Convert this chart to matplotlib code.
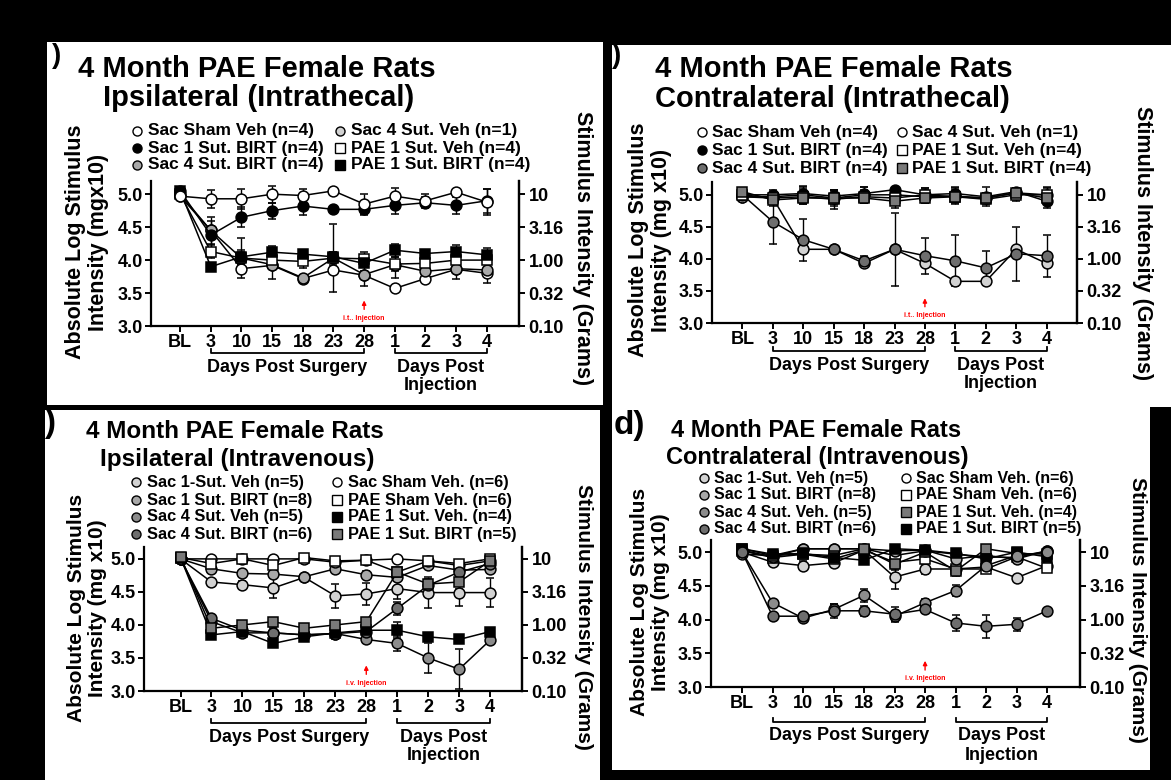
import matplotlib
matplotlib.use('Agg')
import matplotlib.pyplot as plt
import matplotlib.transforms as mtransforms
from matplotlib.patches import Rectangle
from matplotlib.lines import Line2D

plt.rcParams['font.family'] = ['Liberation Sans', 'DejaVu Sans']
plt.rcParams['font.weight'] = 'bold'

# ======================
# Data
# ======================
x_labels = ['BL', '3', '10', '15', '18', '23', '28', '1', '2', '3', '4']
left_ticks = [3.0, 3.5, 4.0, 4.5, 5.0]
right_labels = ['0.10', '0.32', '1.00', '3.16', '10']

# a) ipsilateral, intrathecal
a_names = ['Sac Sham Veh (n=4)', 'Sac 1 Sut. BIRT (n=4)', 'Sac 4 Sut. BIRT (n=4)',
           'Sac 4 Sut. Veh (n=1)', 'PAE 1 Sut. Veh (n=4)', 'PAE 1 Sut. BIRT (n=4)']
a_sham_veh = [4.97, 4.93, 4.93, 5.00, 4.98, 5.05, 4.85, 4.97, 4.90, 5.03, 4.88]
a_sham_err = [0.03, 0.14, 0.15, 0.13, 0.10, 0.02, 0.15, 0.12, 0.10, 0.03, 0.20]
a_sac1_birt = [5.05, 4.38, 4.65, 4.75, 4.82, 4.77, 4.77, 4.83, 4.87, 4.83, 4.90]
a_sac1_birt_err = [0.03, 0.22, 0.15, 0.12, 0.14, 0.02, 0.08, 0.13, 0.08, 0.13, 0.18]
a_sac4_birt = [5.00, 4.45, 4.03, 3.93, 3.73, 4.03, 3.78, 3.93, 3.83, 3.87, 3.85]
a_sac4_birt_err = [0.03, 0.20, 0.30, 0.22, 0.05, 0.52, 0.18, 0.20, 0.12, 0.15, 0.20]
a_sac4_veh = [4.97, 4.45, 3.87, 3.92, 3.72, 3.85, 3.77, 3.57, 3.72, 3.86, 3.80]
a_sac4_veh_err = [0, 0, 0, 0, 0, 0, 0, 0, 0, 0, 0]
a_pae1_veh = [5.00, 4.13, 4.03, 4.00, 3.98, 4.03, 4.02, 3.94, 3.95, 4.00, 4.00]
a_pae1_veh_err = [0.03, 0.10, 0.10, 0.08, 0.10, 0.10, 0.10, 0.10, 0.05, 0.10, 0.10]
a_pae1_birt = [5.05, 3.90, 4.05, 4.12, 4.09, 4.05, 3.95, 4.15, 4.10, 4.13, 4.08]
a_pae1_birt_err = [0.02, 0.06, 0.10, 0.10, 0.06, 0.08, 0.12, 0.10, 0.06, 0.10, 0.10]

# b) contralateral, intrathecal
b_names = a_names
b_sham_veh = [4.97, 4.97, 5.00, 4.95, 5.00, 5.00, 4.97, 4.98, 4.95, 5.03, 5.00]
b_sham_err = [0.03, 0.08, 0.12, 0.12, 0.12, 0.08, 0.10, 0.12, 0.08, 0.08, 0.12]
b_sac1_birt = [5.00, 5.00, 5.02, 4.98, 5.02, 5.08, 5.00, 5.02, 4.97, 5.05, 4.90]
b_sac1_birt_err = [0.03, 0.08, 0.12, 0.10, 0.10, 0.02, 0.10, 0.10, 0.15, 0.05, 0.10]
b_sac4_birt = [5.00, 4.58, 4.30, 4.15, 3.97, 4.15, 4.05, 3.97, 3.86, 4.08, 4.05]
b_sac4_birt_err = [0.03, 0.35, 0.33, 0.03, 0.08, 0.57, 0.28, 0.40, 0.27, 0.42, 0.33]
b_sac4_veh = [4.97, 4.95, 4.15, 4.15, 3.93, 4.15, 3.93, 3.65, 3.65, 4.15, 3.93]
b_sac4_veh_err = [0, 0, 0, 0, 0, 0, 0, 0, 0, 0, 0]
b_pae1_veh = [5.00, 4.95, 4.97, 4.93, 4.97, 4.95, 5.00, 4.97, 4.93, 5.00, 5.00]
b_pae1_veh_err = [0.03, 0.10, 0.12, 0.15, 0.10, 0.10, 0.10, 0.10, 0.08, 0.10, 0.10]
b_pae1_birt = [5.05, 4.92, 4.95, 4.95, 4.95, 4.90, 4.95, 4.97, 4.95, 5.03, 4.95]
b_pae1_birt_err = [0.02, 0.10, 0.10, 0.10, 0.08, 0.10, 0.08, 0.08, 0.08, 0.05, 0.08]

# c) ipsilateral, intravenous
c_names = ['Sac 1-Sut. Veh (n=5)', 'Sac 1 Sut. BIRT (n=8)', 'Sac 4 Sut. Veh (n=5)',
           'Sac 4 Sut. BIRT (n=6)', 'Sac Sham Veh. (n=6)', 'PAE Sham Veh. (n=6)',
           'PAE 1 Sut. Veh. (n=4)', 'PAE 1 Sut. BIRT (n=5)']
c_sac1_veh = [5.00, 4.65, 4.61, 4.56, 4.72, 4.44, 4.47, 4.55, 4.49, 4.49, 4.49]
c_sac1_veh_err = [0.02, 0.05, 0.06, 0.15, 0.04, 0.18, 0.17, 0.15, 0.23, 0.20, 0.22]
c_sac1_birt = [5.00, 4.85, 4.78, 4.77, 4.73, 4.85, 4.76, 4.72, 4.90, 4.83, 4.84]
c_sac1_birt_err = [0.02, 0.04, 0.04, 0.05, 0.04, 0.04, 0.05, 0.05, 0.04, 0.05, 0.05]
c_sac4_veh = [5.00, 4.05, 3.88, 3.88, 3.85, 3.87, 3.78, 3.72, 3.50, 3.33, 3.77]
c_sac4_veh_err = [0.02, 0.05, 0.05, 0.08, 0.05, 0.08, 0.05, 0.12, 0.22, 0.30, 0.05]
c_sac4_birt = [5.00, 4.10, 3.92, 3.88, 3.85, 3.87, 3.90, 4.25, 4.60, 4.80, 4.93]
c_sac4_birt_err = [0.02, 0.05, 0.05, 0.05, 0.05, 0.05, 0.05, 0.10, 0.05, 0.05, 0.05]
c_sham_veh = [5.00, 5.00, 5.00, 5.00, 5.00, 4.95, 4.98, 5.00, 4.97, 4.90, 4.97]
c_sham_veh_err = [0.02, 0.03, 0.03, 0.03, 0.03, 0.04, 0.03, 0.03, 0.03, 0.04, 0.03]
c_pae_sham = [5.02, 4.93, 5.00, 4.90, 5.02, 4.97, 4.98, 4.80, 4.97, 4.93, 5.00]
c_pae_sham_err = [0.02, 0.04, 0.03, 0.05, 0.03, 0.04, 0.04, 0.05, 0.03, 0.04, 0.03]
c_pae1_veh = [5.02, 3.85, 3.90, 3.72, 3.82, 3.88, 3.92, 3.92, 3.82, 3.78, 3.90]
c_pae1_veh_err = [0.02, 0.05, 0.05, 0.05, 0.05, 0.05, 0.05, 0.12, 0.05, 0.03, 0.05]
c_pae1_birt = [5.03, 3.95, 4.00, 4.05, 3.95, 4.00, 4.05, 4.80, 4.62, 4.65, 4.97]
c_pae1_birt_err = [0.02, 0.05, 0.05, 0.05, 0.05, 0.05, 0.05, 0.05, 0.08, 0.10, 0.05]

# d) contralateral, intravenous
d_names = ['Sac 1-Sut. Veh (n=5)', 'Sac 1 Sut. BIRT (n=8)', 'Sac 4 Sut. Veh. (n=5)',
           'Sac 4 Sut. BIRT (n=6)', 'Sac Sham Veh. (n=6)', 'PAE Sham Veh. (n=6)',
           'PAE 1 Sut. Veh. (n=4)', 'PAE 1 Sut. BIRT (n=5)']
d_sac1_veh = [5.00, 4.85, 4.80, 4.84, 5.03, 4.63, 4.75, 4.75, 4.78, 4.62, 4.80]
d_sac1_veh_err = [0.02, 0.04, 0.07, 0.03, 0.03, 0.18, 0.08, 0.05, 0.07, 0.02, 0.03]
d_sac1_birt = [5.03, 4.93, 5.05, 5.05, 5.05, 5.02, 5.03, 4.90, 4.95, 4.90, 5.02]
d_sac1_birt_err = [0.02, 0.04, 0.03, 0.03, 0.04, 0.04, 0.03, 0.04, 0.04, 0.04, 0.03]
d_sac4_veh = [5.00, 4.05, 4.05, 4.13, 4.13, 4.08, 4.15, 3.95, 3.90, 3.93, 4.13]
d_sac4_veh_err = [0.02, 0.05, 0.05, 0.10, 0.07, 0.10, 0.05, 0.12, 0.17, 0.10, 0.02]
d_sac4_birt = [5.00, 4.25, 4.02, 4.15, 4.36, 4.05, 4.25, 4.43, 4.80, 4.95, 5.00]
d_sac4_birt_err = [0.02, 0.03, 0.03, 0.08, 0.10, 0.08, 0.05, 0.08, 0.05, 0.03, 0.03]
d_sham_veh = [4.97, 4.95, 5.05, 5.05, 5.05, 4.95, 5.02, 4.97, 4.93, 4.92, 5.02]
d_sham_veh_err = [0.02, 0.03, 0.03, 0.03, 0.03, 0.05, 0.03, 0.04, 0.04, 0.03, 0.03]
d_pae_sham = [5.02, 4.92, 4.97, 4.90, 5.03, 4.85, 4.90, 4.75, 4.75, 4.93, 4.76]
d_pae_sham_err = [0.02, 0.04, 0.04, 0.05, 0.03, 0.08, 0.06, 0.05, 0.05, 0.04, 0.03]
d_pae1_veh = [5.05, 4.95, 4.97, 4.95, 5.05, 4.82, 5.00, 4.72, 5.05, 4.98, 4.97]
d_pae1_veh_err = [0.02, 0.04, 0.04, 0.04, 0.03, 0.08, 0.04, 0.08, 0.03, 0.04, 0.04]
d_pae1_birt = [5.05, 4.97, 4.98, 4.92, 4.88, 5.05, 5.03, 4.98, 4.90, 5.00, 4.93]
d_pae1_birt_err = [0.02, 0.04, 0.04, 0.04, 0.04, 0.03, 0.03, 0.04, 0.04, 0.03, 0.04]

# ======================
# Styles
# ======================
STYLES = {
    'open_circle': ('o', 'white'),
    'black_circle': ('o', 'black'),
    'light_circle': ('o', '#d2d2d2'),
    'gray_circle': ('o', '#a8a8a8'),
    'mid_circle': ('o', '#8c8c8c'),
    'dark_circle': ('o', '#6e6e6e'),
    'open_square': ('s', 'white'),
    'black_square': ('s', 'black'),
    'gray_square': ('s', '#7a7a7a'),
}

W, H = 1171, 780


def fx(px):
    return px / W


def fy(py):
    return 1 - py / H


fig = plt.figure(figsize=(W / 100, H / 100), dpi=100, facecolor='black')

# white panel backgrounds
for x0, y0, x1, y1 in [(47, 42, 603, 405), (612, 45, 1171, 407),
                       (45, 410, 600, 780), (612, 407, 1150, 770)]:
    fig.add_artist(Rectangle((fx(x0), fy(y1)), fx(x1) - fx(x0), fy(y0) - fy(y1),
                             transform=fig.transFigure, facecolor='white',
                             edgecolor='none', zorder=-10))


def draw_panel(p):
    x0, y0, x1, y1 = p['box']
    ax = fig.add_axes([fx(x0), fy(y1), fx(x1) - fx(x0), fy(y0) - fy(y1)])
    ax.patch.set_alpha(0)
    ax.set_xlim(*p['xlim'])
    ax.set_ylim(3.0, p['ytop'])
    xs = list(range(len(x_labels)))

    for name, vals, err, style in p['series']:
        marker, fc = STYLES[style]
        ax.errorbar(xs, vals, yerr=err, color='black', lw=1.1, marker=marker,
                    ms=7.8, mfc=fc, mec='black', mew=1.1, elinewidth=1.0,
                    capsize=3.2, capthick=1.0)

    for s in ['left', 'bottom', 'right']:
        ax.spines[s].set_linewidth(1.6)
    ax.spines['top'].set_visible(False)
    ax.set_xticks(xs)
    ax.set_xticklabels(x_labels, fontsize=13, fontweight='bold')
    ax.set_yticks(left_ticks)
    ax.set_yticklabels([f'{v:.1f}' for v in left_ticks], fontsize=13,
                       fontweight='bold')
    ax.tick_params(length=4, width=1.4, pad=2)

    ax2 = ax.twinx()
    ax2.set_ylim(ax.get_ylim())
    ax2.set_yticks(left_ticks)
    ax2.set_yticklabels(right_labels, fontsize=13, fontweight='bold')
    ax2.tick_params(length=4, width=1.4, pad=3)
    for s in ['left', 'top', 'bottom']:
        ax2.spines[s].set_visible(False)
    ax2.spines['right'].set_linewidth(1.6)

    # injection arrow
    ax.annotate('', xy=(6, 3.43), xytext=(6, 3.21),
                arrowprops=dict(arrowstyle='-|>', color='red', lw=1.0,
                                mutation_scale=6))
    ax.text(6, 3.12, p['inj'], color='red', fontsize=5, ha='center',
            va='center')

    # brackets under x axis
    trans = mtransforms.blended_transform_factory(ax.transData, fig.transFigure)
    by = p['bracket_y']
    for a, b in [(1, 6), (7, 10)]:
        ax.plot([a, a, b, b], [fy(by - 4), fy(by), fy(by), fy(by - 4)],
                transform=trans, clip_on=False, color='black', lw=1.3)
    ax.text(3.5, fy(by + 14), 'Days Post Surgery', transform=trans,
            ha='center', va='center', fontsize=13)
    ax.text(8.5, fy(by + 14), 'Days Post', transform=trans,
            ha='center', va='center', fontsize=13)
    ax.text(8.5, fy(by + 33), 'Injection', transform=trans,
            ha='center', va='center', fontsize=13)

    # titles
    for (tx, ty), line in zip(p['title_xy'], p['title']):
        fig.text(fx(tx), fy(ty), line, fontsize=p['title_fs'], ha='left',
                 va='baseline')
    lx, ly = p['label_xy']
    fig.text(fx(lx), fy(ly), p['label'], fontsize=p['label_fs'], ha='left',
             va='baseline')

    # y labels
    yx, yy = p['ylab_xy']
    fig.text(fx(yx), fy(yy), 'Absolute Log Stimulus\n' + p['ylab2'],
             rotation=90, ha='center', va='center', multialignment='center',
             fontsize=p['ylab_fs'], linespacing=1.15)
    rx, ry = p['rlab_xy']
    fig.text(fx(rx), fy(ry), 'Stimulus Intensity (Grams)', rotation=270,
             ha='center', va='center', fontsize=p['ylab_fs'])

    # legend, drawn by hand in two columns
    rows = p['leg_rows']
    cols = p['leg_cols']
    n_rows = len(rows)
    for i, (name, vals, err, style) in enumerate(p['legend']):
        mx, tx = cols[i // n_rows]
        ry_ = rows[i % n_rows]
        marker, fc = STYLES[style]
        fig.add_artist(Line2D([fx(mx)], [fy(ry_)], marker=marker, ms=6.5,
                              mfc=fc, mec='black', mew=1.0, ls='none',
                              transform=fig.transFigure))
        fig.text(fx(tx), fy(ry_), name, fontsize=p['leg_fs'], ha='left',
                 va='center')


a_series = [
    (a_names[3], a_sac4_veh, a_sac4_veh_err, 'open_circle'),
    (a_names[2], a_sac4_birt, a_sac4_birt_err, 'gray_circle'),
    (a_names[4], a_pae1_veh, a_pae1_veh_err, 'open_square'),
    (a_names[5], a_pae1_birt, a_pae1_birt_err, 'black_square'),
    (a_names[1], a_sac1_birt, a_sac1_birt_err, 'black_circle'),
    (a_names[0], a_sham_veh, a_sham_err, 'open_circle'),
]
a_legend = [
    (a_names[0], None, None, 'open_circle'),
    (a_names[1], None, None, 'black_circle'),
    (a_names[2], None, None, 'gray_circle'),
    (a_names[3], None, None, 'light_circle'),
    (a_names[4], None, None, 'open_square'),
    (a_names[5], None, None, 'black_square'),
]

b_series = [
    (b_names[3], b_sac4_veh, b_sac4_veh_err, 'light_circle'),
    (b_names[2], b_sac4_birt, b_sac4_birt_err, 'dark_circle'),
    (b_names[0], b_sham_veh, b_sham_err, 'open_circle'),
    (b_names[1], b_sac1_birt, b_sac1_birt_err, 'black_circle'),
    (b_names[4], b_pae1_veh, b_pae1_veh_err, 'open_square'),
    (b_names[5], b_pae1_birt, b_pae1_birt_err, 'gray_square'),
]
b_legend = [
    (b_names[0], None, None, 'open_circle'),
    (b_names[1], None, None, 'black_circle'),
    (b_names[2], None, None, 'dark_circle'),
    (b_names[3], None, None, 'open_circle'),
    (b_names[4], None, None, 'open_square'),
    (b_names[5], None, None, 'gray_square'),
]

c_series = [
    (c_names[0], c_sac1_veh, c_sac1_veh_err, 'light_circle'),
    (c_names[1], c_sac1_birt, c_sac1_birt_err, 'gray_circle'),
    (c_names[4], c_sham_veh, c_sham_veh_err, 'open_circle'),
    (c_names[5], c_pae_sham, c_pae_sham_err, 'open_square'),
    (c_names[2], c_sac4_veh, c_sac4_veh_err, 'mid_circle'),
    (c_names[3], c_sac4_birt, c_sac4_birt_err, 'dark_circle'),
    (c_names[6], c_pae1_veh, c_pae1_veh_err, 'black_square'),
    (c_names[7], c_pae1_birt, c_pae1_birt_err, 'gray_square'),
]
c_legend = [
    (c_names[0], None, None, 'light_circle'),
    (c_names[1], None, None, 'gray_circle'),
    (c_names[2], None, None, 'mid_circle'),
    (c_names[3], None, None, 'dark_circle'),
    (c_names[4], None, None, 'open_circle'),
    (c_names[5], None, None, 'open_square'),
    (c_names[6], None, None, 'black_square'),
    (c_names[7], None, None, 'gray_square'),
]

d_series = [
    (d_names[0], d_sac1_veh, d_sac1_veh_err, 'light_circle'),
    (d_names[5], d_pae_sham, d_pae_sham_err, 'open_square'),
    (d_names[4], d_sham_veh, d_sham_veh_err, 'open_circle'),
    (d_names[1], d_sac1_birt, d_sac1_birt_err, 'gray_circle'),
    (d_names[6], d_pae1_veh, d_pae1_veh_err, 'gray_square'),
    (d_names[7], d_pae1_birt, d_pae1_birt_err, 'black_square'),
    (d_names[3], d_sac4_birt, d_sac4_birt_err, 'mid_circle'),
    (d_names[2], d_sac4_veh, d_sac4_veh_err, 'dark_circle'),
]
d_legend = [
    (d_names[0], None, None, 'light_circle'),
    (d_names[1], None, None, 'gray_circle'),
    (d_names[2], None, None, 'mid_circle'),
    (d_names[3], None, None, 'dark_circle'),
    (d_names[4], None, None, 'open_circle'),
    (d_names[5], None, None, 'open_square'),
    (d_names[6], None, None, 'gray_square'),
    (d_names[7], None, None, 'black_square'),
]

panels = [
    dict(box=(151, 181, 519, 326), xlim=(-0.95, 11.05), ytop=5.2,
         series=a_series, legend=a_legend, inj='i.t.. Injection',
         bracket_y=353, title=['4 Month PAE Female Rats', 'Ipsilateral (Intrathecal)'],
         title_xy=[(78, 77), (103, 106)], title_fs=21,
         label=')', label_xy=(52, 63), label_fs=20,
         ylab2='Intensity (mgx10)', ylab_xy=(87, 242), rlab_xy=(583, 248),
         ylab_fs=15.5, leg_rows=[131, 148, 165], leg_cols=[(137, 148), (340, 351)],
         leg_fs=12.5),
    dict(box=(712, 182, 1077, 323), xlim=(-1.0, 11.0), ytop=5.2,
         series=b_series, legend=b_legend, inj='i.t.. Injection',
         bracket_y=351, title=['4 Month PAE Female Rats', 'Contralateral (Intrathecal)'],
         title_xy=[(655, 77), (655, 107)], title_fs=21,
         label=')', label_xy=(612, 63), label_fs=20,
         ylab2='Intensity (mg x10)', ylab_xy=(650, 240), rlab_xy=(1143, 243),
         ylab_fs=15.5, leg_rows=[132, 150, 168], leg_cols=[(702, 712), (902, 912)],
         leg_fs=12.5),
    dict(box=(144, 547, 522, 691), xlim=(-1.18, 11.03), ytop=5.18,
         series=c_series, legend=c_legend, inj='i.v. Injection',
         bracket_y=723, title=['4 Month PAE Female Rats', 'Ipsilateral (Intravenous)'],
         title_xy=[(86, 438), (100, 466)], title_fs=17.5,
         label=')', label_xy=(44, 432), label_fs=24,
         ylab2='Intensity (mg x10)', ylab_xy=(87, 608), rlab_xy=(583, 617),
         ylab_fs=15, leg_rows=[482, 500, 517, 534], leg_cols=[(136, 147), (337, 348)],
         leg_fs=11.8),
    dict(box=(711, 540, 1080, 687), xlim=(-1.02, 11.08), ytop=5.18,
         series=d_series, legend=d_legend, inj='i.v. Injection',
         bracket_y=722, title=['4 Month PAE Female Rats', 'Contralateral (Intravenous)'],
         title_xy=[(671, 437), (666, 464)], title_fs=17,
         label='d)', label_xy=(614, 434), label_fs=24,
         ylab2='Intensity (mg x10)', ylab_xy=(650, 602), rlab_xy=(1137, 610),
         ylab_fs=15, leg_rows=[478, 495, 512, 529], leg_cols=[(704, 714), (906, 916)],
         leg_fs=11.5),
]

for p in panels:
    draw_panel(p)

fig.savefig('out.png', dpi=100, facecolor='black')
